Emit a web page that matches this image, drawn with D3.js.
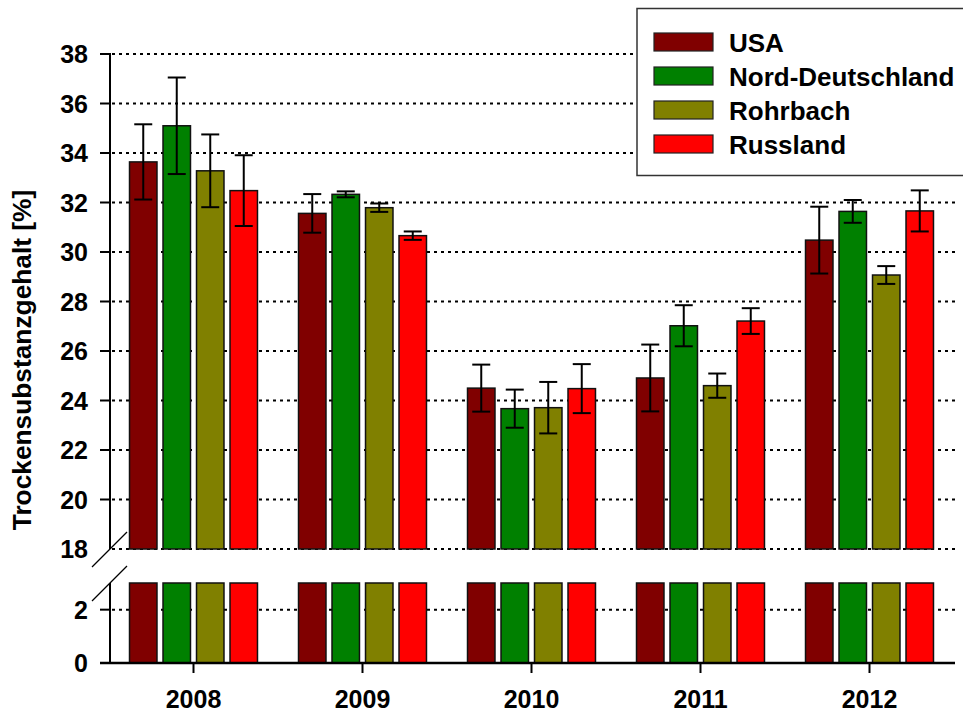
<!DOCTYPE html>
<html><head><meta charset="utf-8">
<script src="https://cdn.jsdelivr.net/npm/d3@7"></script>
<style>body{margin:0;background:#fff}svg{display:block}text{font-family:"Liberation Sans",Arial,sans-serif;font-weight:bold;fill:#000}</style>
</head><body>
<script>
const years = ["2008","2009","2010","2011","2012"];
const series = ["USA","Nord-Deutschland","Rohrbach","Russland"];
const colors = ["#800000","#008000","#808000","#ff0000"];
const valUSA = [33.64,31.56,24.50,24.91,30.48];
const valNord = [35.10,32.33,23.67,27.02,31.64];
const valRohr = [33.28,31.79,23.71,24.60,29.07];
const valRuss = [32.48,30.66,24.48,27.21,31.66];
const errUSA = [1.52,0.78,0.95,1.35,1.35];
const errNord = [1.95,0.12,0.77,0.83,0.46];
const errRohr = [1.47,0.17,1.04,0.49,0.36];
const errRuss = [1.43,0.17,0.99,0.52,0.83];
const upperTicks = [18,20,22,24,26,28,30,32,34,36,38];
const lowerTicks = [0,2];
const yTitle = "Trockensubstanzgehalt [%]";

const vals = [valUSA,valNord,valRohr,valRuss];
const errs = [errUSA,errNord,errRohr,errRuss];

const W=963,H=713;
const svg=d3.select("body").append("svg").attr("width",W).attr("height",H);
const axX=110, right=955;
const x=d3.scaleBand().domain(years).range([109,954]);
const xi=d3.scaleBand().domain(series).range([-67,67]).paddingInner(0.18).paddingOuter(0.09);
const yU=d3.scaleLinear().domain([18,38]).range([549,54]);
const yL=d3.scaleLinear().domain([0,3]).range([663,583]);

// gridlines
const grid=svg.append("g").attr("stroke","#000").attr("stroke-width",2).attr("stroke-dasharray","3,4");
upperTicks.forEach(t=>grid.append("line").attr("x1",axX+2).attr("x2",right).attr("y1",yU(t)).attr("y2",yU(t)));
lowerTicks.filter(t=>t>0).forEach(t=>grid.append("line").attr("x1",axX+2).attr("x2",right).attr("y1",yL(t)).attr("y2",yL(t)));

// bars
const data=[];
years.forEach((yr,i)=>series.forEach((s,j)=>data.push({yr,s,j,v:vals[j][i],e:errs[j][i]})));
const bars=svg.append("g");
bars.selectAll("rect.u").data(data).join("rect").attr("class","u")
 .attr("x",d=>x(d.yr)+x.bandwidth()/2+xi(d.s)).attr("width",xi.bandwidth())
 .attr("y",d=>yU(d.v)).attr("height",d=>yU(18)-yU(d.v))
 .attr("fill",d=>colors[d.j]).attr("stroke","#111").attr("stroke-width",1.5);
bars.selectAll("rect.l").data(data).join("rect").attr("class","l")
 .attr("x",d=>x(d.yr)+x.bandwidth()/2+xi(d.s)).attr("width",xi.bandwidth())
 .attr("y",yL(3)).attr("height",yL(0)-yL(3))
 .attr("fill",d=>colors[d.j]).attr("stroke","#111").attr("stroke-width",1.5);

// error bars
const eb=svg.append("g").attr("stroke","#000").attr("stroke-width",2);
data.forEach(d=>{
  const cx=x(d.yr)+x.bandwidth()/2+xi(d.s)+xi.bandwidth()/2;
  eb.append("line").attr("x1",cx).attr("x2",cx).attr("y1",yU(d.v+d.e)).attr("y2",yU(d.v-d.e));
  eb.append("line").attr("x1",cx-9).attr("x2",cx+9).attr("y1",yU(d.v+d.e)).attr("y2",yU(d.v+d.e));
  eb.append("line").attr("x1",cx-9).attr("x2",cx+9).attr("y1",yU(d.v-d.e)).attr("y2",yU(d.v-d.e));
});

// y axes
const ax=svg.append("g").attr("stroke","#000").attr("stroke-width",2);
ax.append("line").attr("x1",axX).attr("x2",axX).attr("y1",yU(38)-1).attr("y2",yU(18));
ax.append("line").attr("x1",axX).attr("x2",axX).attr("y1",yL(3)).attr("y2",yL(0));
upperTicks.filter(t=>t>18).forEach(t=>ax.append("line").attr("x1",100).attr("x2",axX).attr("y1",yU(t)).attr("y2",yU(t)));
ax.append("line").attr("x1",100).attr("x2",axX).attr("y1",yL(2)).attr("y2",yL(2));
// x axis
ax.append("line").attr("x1",100).attr("x2",right).attr("y1",yL(0)).attr("y2",yL(0)).attr("stroke-width",2.5);
years.forEach(yr=>ax.append("line").attr("x1",x(yr)+x.bandwidth()/2).attr("x2",x(yr)+x.bandwidth()/2).attr("y1",yL(0)).attr("y2",yL(0)+10));
// break marks
const bk=svg.append("g").attr("stroke","#000").attr("stroke-width",1.3);
[yU(18),yL(3)].forEach(yy=>bk.append("line").attr("x1",axX-18).attr("y1",yy+18).attr("x2",axX+17).attr("y2",yy-17));

// tick labels
const tl=svg.append("g").attr("font-size",25).attr("text-anchor","end");
upperTicks.forEach(t=>tl.append("text").attr("x",88).attr("y",yU(t)).attr("dy","0.36em").text(t));
lowerTicks.forEach(t=>tl.append("text").attr("x",88).attr("y",yL(t)).attr("dy","0.36em").text(t));
const xl=svg.append("g").attr("font-size",25).attr("text-anchor","middle");
years.forEach(yr=>xl.append("text").attr("x",x(yr)+x.bandwidth()/2).attr("y",708).text(yr));
svg.append("text").attr("font-size",26.3).attr("text-anchor","middle")
 .attr("transform","translate(31,360) rotate(-90)").text(yTitle);

// legend
const lg=svg.append("g");
lg.append("rect").attr("x",637).attr("y",8.5).attr("width",330).attr("height",167).attr("fill","#fff").attr("stroke","#333").attr("stroke-width",1.5);
series.forEach((s,j)=>{
  const yy=33+j*34;
  lg.append("rect").attr("x",654).attr("y",yy).attr("width",59).attr("height",18).attr("fill",colors[j]).attr("stroke","#222").attr("stroke-width",1.2);
  lg.append("text").attr("x",729).attr("y",yy+18.5).attr("font-size",26).text(s);
});
</script>
</body></html>
